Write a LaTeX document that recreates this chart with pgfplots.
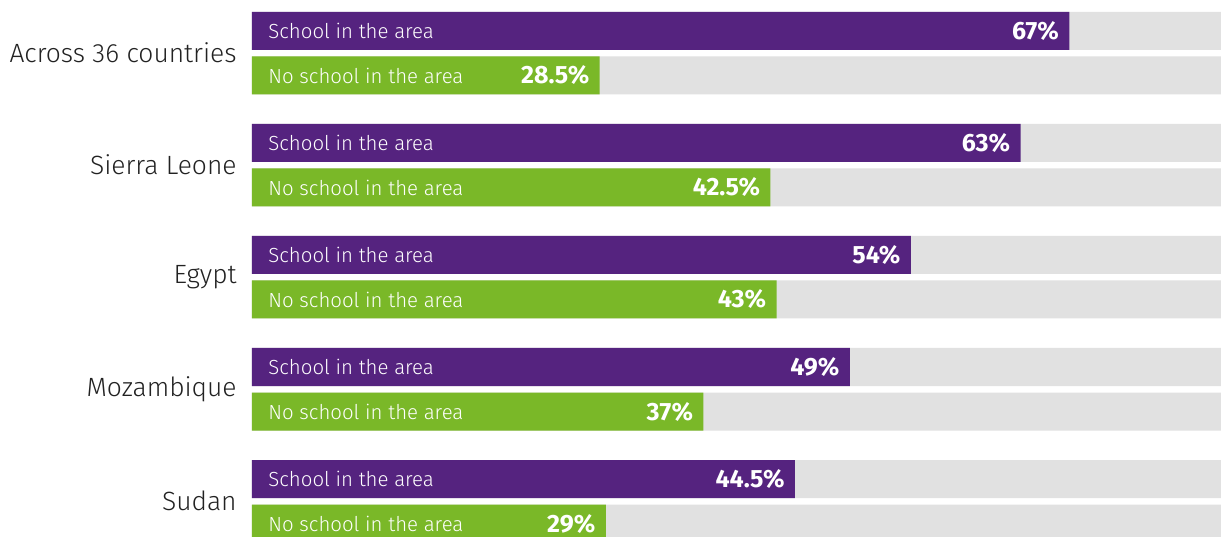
\documentclass[border=0pt]{standalone}
\usepackage{pgfplots}
\pgfplotsset{compat=1.18}
\usepackage{fontspec}
\setmainfont{Fira Sans Light}[BoldFont=Fira Sans Bold]
\definecolor{cpurple}{RGB}{85,35,127}
\definecolor{cgreen}{RGB}{122,184,40}
\definecolor{cgrey}{RGB}{225,225,225}
\definecolor{ctext}{RGB}{34,34,34}
\tikzset{inlbl/.style={anchor=west, inner sep=0pt, xshift=8pt, text=white, font=\fontsize{10.2}{12}\selectfont}}
\begin{document}
\begin{tikzpicture}
\useasboundingbox (0,0) rectangle (610.5pt,268pt);
\begin{axis}[
  at={(126pt,0pt)}, anchor=south west,
  scale only axis, width=484.5pt, height=268pt,
  xmin=0, xmax=79.43, ymin=-536, ymax=0,
  axis line style={draw=none},
  xtick=\empty,
  ytick={-53,-165,-277,-389,-501},
  yticklabels={Across 36 countries,Sierra Leone,Egypt,Mozambique,Sudan},
  major tick length=0pt,
  yticklabel style={font=\fontsize{13.2}{15}\selectfont, text=ctext, inner sep=0pt, xshift=-7.5pt},
  xbar, bar shift=0pt, bar width=38,
]
\addplot[fill=cgrey, draw=none] coordinates {
 (100,-31) (100,-75.5) (100,-143) (100,-187.5) (100,-255) (100,-299.5) (100,-367) (100,-411.5) (100,-479) (100,-523.5)};
\addplot[fill=cpurple, draw=none, point meta=explicit symbolic,
  nodes near coords, every node near coord/.style={anchor=east, inner sep=0pt, xshift=-5pt, text=white, font=\bfseries\fontsize{12.5}{14}\selectfont}]
 coordinates {(67,-31) [67\%] (63,-143) [63\%] (54,-255) [54\%] (49,-367) [49\%] (44.5,-479) [44.5\%]};
\addplot[fill=cgreen, draw=none, point meta=explicit symbolic,
  nodes near coords, every node near coord/.style={anchor=east, inner sep=0pt, xshift=-5pt, text=white, font=\bfseries\fontsize{12.5}{14}\selectfont}]
 coordinates {(28.5,-75.5) [28.5\%] (42.5,-187.5) [42.5\%] (43,-299.5) [43\%] (37,-411.5) [37\%] (29,-523.5) [29\%]};
\node[inlbl] at (axis cs:0,-31) {School in the area};
\node[inlbl] at (axis cs:0,-143) {School in the area};
\node[inlbl] at (axis cs:0,-255) {School in the area};
\node[inlbl] at (axis cs:0,-367) {School in the area};
\node[inlbl] at (axis cs:0,-479) {School in the area};
\node[inlbl] at (axis cs:0,-75.5) {No school in the area};
\node[inlbl] at (axis cs:0,-187.5) {No school in the area};
\node[inlbl] at (axis cs:0,-299.5) {No school in the area};
\node[inlbl] at (axis cs:0,-411.5) {No school in the area};
\node[inlbl] at (axis cs:0,-523.5) {No school in the area};
\end{axis}
\end{tikzpicture}
\end{document}
